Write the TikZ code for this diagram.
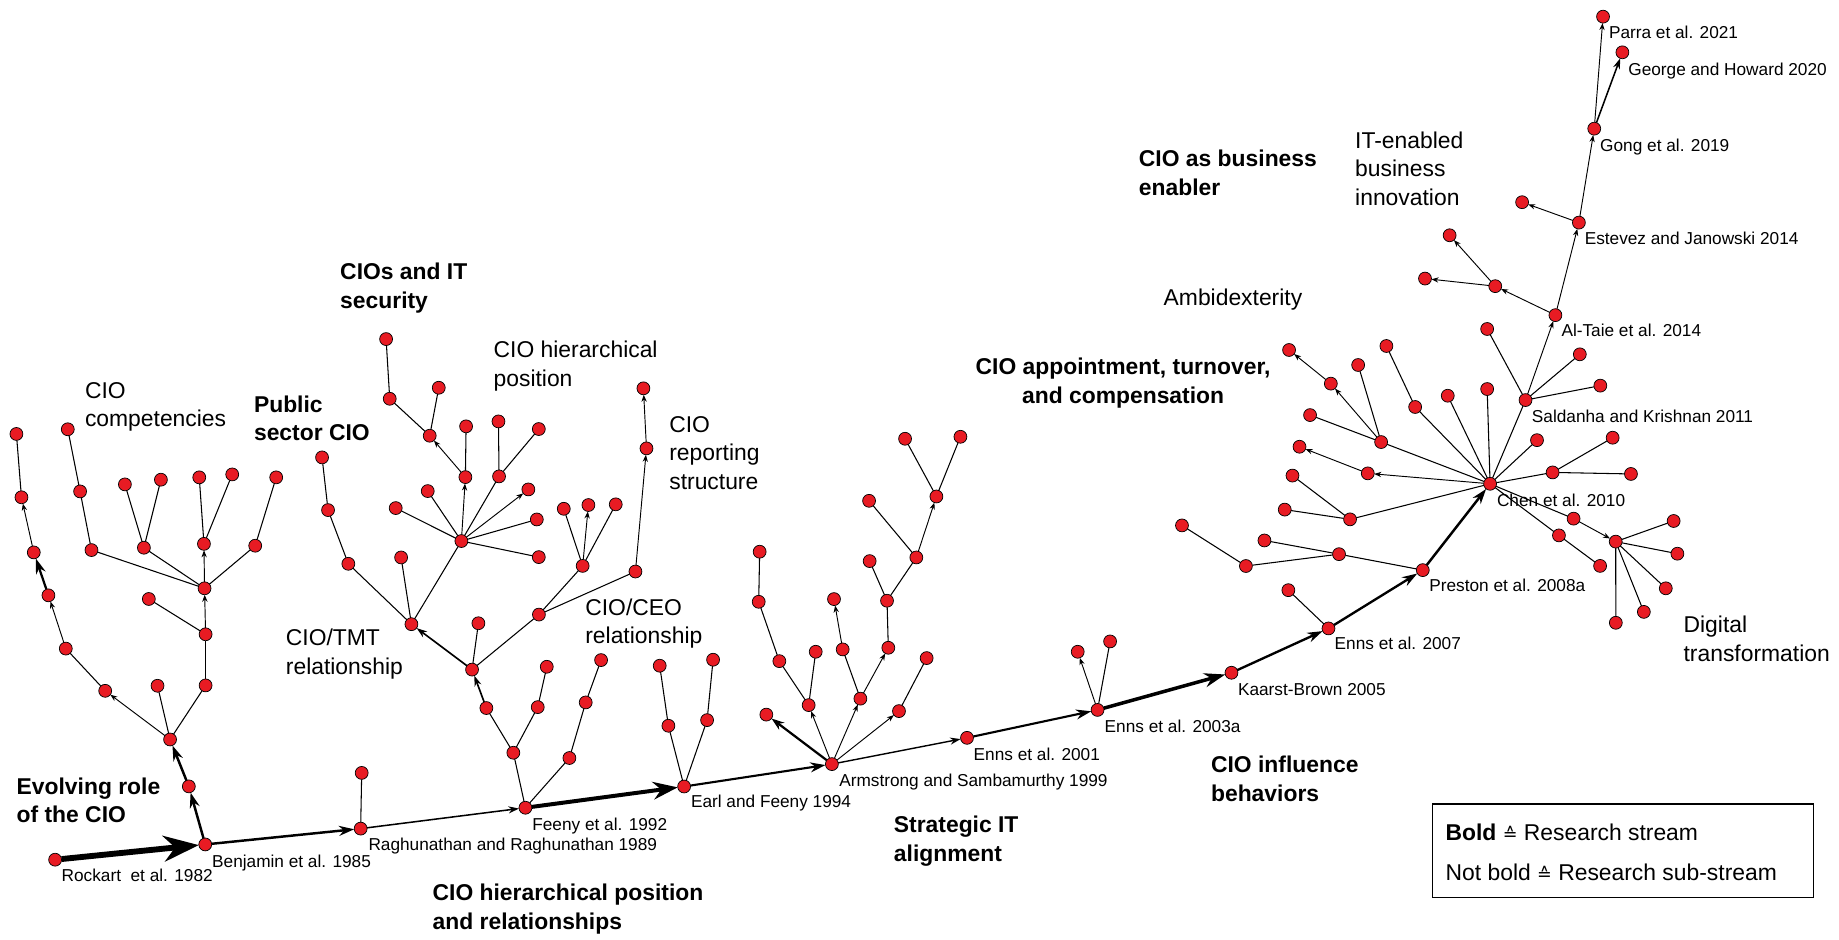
\documentclass[tikz,border=0pt]{standalone}
\usepackage{fontspec}
\setmainfont{Liberation Sans}
\newfontfamily\symfont{DejaVu Sans}
\usetikzlibrary{arrows.meta}
\definecolor{nodered}{RGB}{232,27,35}
\pgfdeclarelayer{bg}
\pgfsetlayers{bg,main}
\begin{document}
\begin{tikzpicture}[x=1pt,y=-1pt,
  dot/.style={circle,draw=black,line width=0.6pt,fill=nodered,minimum size=11pt,inner sep=0pt,outer sep=0pt},
  ln/.style={line width=0.9pt},
  sar/.style={line width=0.8pt,-{Stealth[length=6pt,width=4.5pt]}},
  medar/.style={line width=1.4pt,-{Stealth[length=9pt,width=6pt]}},
  boldar/.style={line width=2.1pt,-{Stealth[length=13pt,width=8.5pt]}},
  bigar/.style={line width=3.4pt,-{Stealth[length=21pt,width=15pt]}},
  hugear/.style={line width=5pt,-{Stealth[length=30pt,width=22pt]}},
  reflab/.style={anchor=base west,inner sep=0pt,font=\fontsize{14.7}{17}\selectfont},
  substrm/.style={anchor=base west,inner sep=0pt,align=left,font=\fontsize{19.5}{24.3}\selectfont},
  strm/.style={anchor=base west,inner sep=0pt,align=left,font=\fontsize{19.5}{24.3}\selectfont\bfseries},
]
\useasboundingbox (0,0) rectangle (1568,801);
% ---------- main line ----------
\node[dot] (r82) at (47,733) {};
\node[dot] (b85) at (175,720) {};
\node[dot] (r89) at (307.5,706.5) {};
\node[dot] (r89c) at (308.4,659) {};
\node[dot] (f92) at (448,688.7) {};
\node[dot] (e94) at (583.3,670.6) {};
\node[dot] (a99) at (709.3,651.5) {};
\node[dot] (e01) at (824.5,629.1) {};
\node[dot] (e03) at (935.8,605.3) {};
\node[dot] (kb05) at (1050,573.6) {};
\node[dot] (e07) at (1132.7,535.8) {};
\node[dot] (p08) at (1213.1,486.1) {};
\node[dot] (c10) at (1270.5,412.5) {};
\node[dot] (s11) at (1300.7,341.1) {};
\node[dot] (at14) at (1326.2,268.7) {};
\node[dot] (ej14) at (1346.2,189.8) {};
\node[dot] (g19) at (1359.3,109.7) {};
\node[dot] (p21) at (1366.8,14.2) {};
\node[dot] (gh20) at (1383.3,44.6) {};
% ---------- evolving role / competencies ----------
\node[dot] (ev1) at (161,670.5) {};
\node[dot] (evA) at (145,630.5) {};
\node[dot] (ev2) at (89.7,589) {};
\node[dot] (ev3) at (134.3,584.7) {};
\node[dot] (ev4) at (175.3,584.4) {};
\node[dot] (ev5) at (56.1,553) {};
\node[dot] (ev6) at (41.3,507.6) {};
\node[dot] (ev7) at (28.8,471) {};
\node[dot] (ev8) at (18.3,424) {};
\node[dot] (ev9) at (14,370) {};
\node[dot] (ev10) at (175.3,540.8) {};
\node[dot] (ev11) at (126.9,510.7) {};
\node[dot] (cmB) at (174.4,501.6) {};
\node[dot] (cm1) at (78,469) {};
\node[dot] (cm2) at (122.7,467) {};
\node[dot] (cm3) at (173.9,463.7) {};
\node[dot] (cm4) at (217.6,465.3) {};
\node[dot] (cm5) at (68.3,419) {};
\node[dot] (cm6) at (57.8,366) {};
\node[dot] (cm7) at (106.5,413) {};
\node[dot] (cm8) at (137.2,409) {};
\node[dot] (cm9) at (169.9,407) {};
\node[dot] (cm10) at (198,404.5) {};
\node[dot] (cm11) at (235.5,407) {};
% ---------- public sector / TMT / hierarchical / security ----------
\node[dot] (ps1) at (274.6,390) {};
\node[dot] (ps2) at (279.7,434.9) {};
\node[dot] (ps3) at (297,480.7) {};
\node[dot] (tmD) at (350.8,532.2) {};
\node[dot] (tm1) at (342,475.3) {};
\node[dot] (hC) at (393.4,461.3) {};
\node[dot] (hc1) at (337.4,433.2) {};
\node[dot] (hc2) at (364.7,418.7) {};
\node[dot] (hc3) at (396.8,406.8) {};
\node[dot] (hc4) at (425.5,406.2) {};
\node[dot] (hc5) at (450.5,417.3) {};
\node[dot] (hc6) at (457.7,442.9) {};
\node[dot] (hc7) at (459.4,475) {};
\node[dot] (sec1) at (366.4,371.5) {};
\node[dot] (hc8) at (397.4,363.5) {};
\node[dot] (sec2) at (332.3,340) {};
\node[dot] (sec3) at (329.2,289.1) {};
\node[dot] (sec4) at (374.1,330.6) {};
\node[dot] (hc9) at (425,359.3) {};
\node[dot] (hc10) at (459.4,365.8) {};
% ---------- CEO / reporting ----------
\node[dot] (ceE) at (402.5,570.9) {};
\node[dot] (ce1) at (407.9,531.4) {};
\node[dot] (ceF) at (459.5,524) {};
\node[dot] (ceG) at (496.8,482.5) {};
\node[dot] (rp1) at (541.8,487.3) {};
\node[dot] (rp2) at (551.2,382.3) {};
\node[dot] (rp3) at (548.6,331.1) {};
\node[dot] (ce2) at (480.7,433.8) {};
\node[dot] (ce3) at (501.7,430.6) {};
\node[dot] (ce4) at (525,430) {};
\node[dot] (fe1) at (437.7,641.8) {};
\node[dot] (fe2) at (485.5,646.3) {};
\node[dot] (fe3) at (414.7,603.7) {};
\node[dot] (fe4) at (458.5,602.9) {};
\node[dot] (fe5) at (466.2,568.5) {};
\node[dot] (fe6) at (499.4,598.9) {};
\node[dot] (fe7) at (512.5,562.8) {};
\node[dot] (ea1) at (569.9,618.8) {};
\node[dot] (ea2) at (562.5,567.6) {};
\node[dot] (ea3) at (602.9,614) {};
\node[dot] (ea4) at (608,562.5) {};
% ---------- strategic alignment ----------
\node[dot] (ar1) at (653.4,609.3) {};
\node[dot] (ar2) at (689.5,601.2) {};
\node[dot] (ar3) at (664.5,563.7) {};
\node[dot] (ar4) at (646.9,513.1) {};
\node[dot] (ar5) at (647.7,470.4) {};
\node[dot] (ar6) at (695.5,555.7) {};
\node[dot] (ar7) at (733.6,595.7) {};
\node[dot] (ar8) at (718.5,553.7) {};
\node[dot] (ar9) at (711.1,510.8) {};
\node[dot] (ar10) at (757.4,552.3) {};
\node[dot] (ar11) at (756.3,512.2) {};
\node[dot] (ar12) at (741.5,478.4) {};
\node[dot] (ar13) at (781.3,475.3) {};
\node[dot] (ar14) at (741,427) {};
\node[dot] (ar15) at (798.4,423.3) {};
\node[dot] (ar16) at (771.7,374.1) {};
\node[dot] (ar17) at (818.9,372.4) {};
\node[dot] (ar18) at (766.5,606.3) {};
\node[dot] (ar19) at (790.1,561.1) {};
% ---------- influence ----------
\node[dot] (en1) at (918.9,555.7) {};
\node[dot] (en2) at (946.5,546.9) {};
\node[dot] (en3) at (1098.5,503.2) {};
\node[dot] (pr1) at (1141.7,472.5) {};
\node[dot] (pr2) at (1078.1,460.8) {};
\node[dot] (pr3) at (1062.3,482.6) {};
\node[dot] (pr4) at (1007.8,448) {};
% ---------- appointment / enabler ----------
\node[dot] (ch1) at (1151.1,442.8) {};
\node[dot] (ch2) at (1102,405.5) {};
\node[dot] (ch3) at (1095.4,434.5) {};
\node[dot] (ch4) at (1166.2,403.6) {};
\node[dot] (ch5) at (1108,380.9) {};
\node[dot] (ch6) at (1177.6,376.9) {};
\node[dot] (ch7) at (1117,353.9) {};
\node[dot] (ch8) at (1134.7,327.1) {};
\node[dot] (ch9) at (1099.1,298.4) {};
\node[dot] (ch10) at (1158,311.2) {};
\node[dot] (ch11) at (1206.6,347) {};
\node[dot] (ch12) at (1182.1,295) {};
\node[dot] (ch13) at (1234.4,337.4) {};
\node[dot] (ch14) at (1268,331.7) {};
\node[dot] (sk1) at (1268,280.5) {};
\node[dot] (sk2) at (1347,302.1) {};
\node[dot] (sk3) at (1364.5,328.8) {};
\node[dot] (ch15) at (1310.5,375.3) {};
\node[dot] (ch16) at (1323.8,402.8) {};
\node[dot] (ch17) at (1375,373.2) {};
\node[dot] (ch18) at (1390.6,404.1) {};
\node[dot] (ch19) at (1341.7,442.2) {};
\node[dot] (dtH) at (1377.6,461.8) {};
\node[dot] (ch20) at (1329.2,456.5) {};
\node[dot] (ch21) at (1364.3,482.5) {};
\node[dot] (dt1) at (1427,444.2) {};
\node[dot] (dt2) at (1430.2,472.1) {};
\node[dot] (dt3) at (1420.3,501.6) {};
\node[dot] (dt4) at (1401.6,521.7) {};
\node[dot] (dt5) at (1377.7,531) {};
\node[dot] (bi1) at (1274.9,244) {};
\node[dot] (bi2) at (1236,200.6) {};
\node[dot] (bi3) at (1215,237.5) {};
\node[dot] (bi4) at (1297.8,172.4) {};
% ---------- connectors ----------
\begin{pgfonlayer}{bg}
\draw[hugear] (r82) -- (b85);
\draw[boldar] (b85) -- (r89);
\draw[boldar] (b85) -- (ev1);
\draw[boldar] (ev1) -- (evA);
\draw[boldar,line width=1.9pt] (ev6) -- (ev7);
\draw[medar,line width=1.3pt] (r89) -- (f92);
\draw[bigar] (f92) -- (e94);
\draw[boldar,line width=1.8pt] (e94) -- (a99);
\draw[medar,line width=1.2pt] (a99) -- (e01);
\draw[boldar,line width=1.8pt] (e01) -- (e03);
\draw[bigar,line width=3pt,-{Stealth[length=18pt,width=12pt]}] (e03) -- (kb05);
\draw[boldar,line width=2pt] (kb05) -- (e07);
\draw[boldar,line width=2pt] (e07) -- (p08);
\draw[boldar] (p08) -- (c10);
\draw[boldar,line width=1.9pt,-{Stealth[length=11pt,width=7.5pt]}] (a99) -- (ar1);
\draw[medar] (fe3) -- (ceE);
\draw[medar] (ceE) -- (tmD);
\draw[medar,line width=1.3pt] (g19) -- (gh20);
\foreach \a/\b in {evA/ev2, ev5/ev6, ev7/ev8, ev10/cmB, cmB/cm3, hC/hc3, hc3/sec1, hC/hc5,
  ceG/ce3, rp1/rp2, rp2/rp3, a99/ar2, a99/ar7, a99/ar18, ar8/ar9, ar7/ar10, ar13/ar15,
  e03/en1, c10/ch4, ch4/ch5, ch6/ch8, ch8/ch9, ch19/dtH, s11/at14, at14/ej14, ej14/g19,
  g19/p21, at14/bi1, bi1/bi2, bi1/bi3, ej14/bi4}
  \draw[sar] (\a) -- (\b);
\foreach \a/\b in {r89/r89c, ev2/ev5, ev8/ev9, evA/ev3, evA/ev4, ev4/ev10, ev10/ev11,
  cmB/cm1, cmB/cm2, cmB/cm4, cm1/cm5, cm5/cm6, cm2/cm7, cm2/cm8, cm3/cm9, cm3/cm10, cm4/cm11,
  ps1/ps2, ps2/ps3, ps3/tmD, tmD/tm1, tmD/hC, hC/hc1, hC/hc2, hC/hc4, hC/hc6, hC/hc7,
  hc3/hc8, sec1/sec2, sec2/sec3, sec1/sec4, hc4/hc9, hc4/hc10,
  ceE/ce1, ceE/ceF, ceF/ceG, ceF/rp1, ceG/ce2, ceG/ce4,
  f92/fe1, f92/fe2, fe1/fe3, fe1/fe4, fe4/fe5, fe2/fe6, fe6/fe7,
  e94/ea1, ea1/ea2, e94/ea3, ea3/ea4,
  ar2/ar3, ar3/ar4, ar4/ar5, ar2/ar6, ar7/ar8, ar10/ar11, ar11/ar12, ar11/ar13,
  ar13/ar14, ar15/ar16, ar15/ar17, ar18/ar19,
  e03/en2, e07/en3, p08/pr1, pr1/pr2, pr1/pr3, pr3/pr4,
  c10/ch1, ch1/ch2, ch1/ch3, c10/ch6, ch6/ch7, ch6/ch10, c10/ch11, ch11/ch12,
  c10/ch13, c10/ch14, c10/s11, s11/sk1, s11/sk2, s11/sk3, c10/ch15, c10/ch16,
  ch16/ch17, ch16/ch18, c10/ch19, c10/ch20, ch20/ch21,
  dtH/dt1, dtH/dt2, dtH/dt3, dtH/dt4, dtH/dt5}
  \draw[ln] (\a) -- (\b);
\end{pgfonlayer}
% ---------- reference labels ----------
\node[reflab] (lr82) at (52.4,751.2) {Rockart\ \ et al. 1982};
\node[reflab] (lb85) at (180.7,739.3) {Benjamin et al. 1985};
\node[reflab] (lr89) at (314,725.5) {Raghunathan and Raghunathan 1989};
\node[reflab] (lf92) at (453.7,708.2) {Feeny et al. 1992};
\node[reflab] (le94) at (589,688.6) {Earl and Feeny 1994};
\node[reflab] (la99) at (715.4,670.4) {Armstrong and Sambamurthy 1999};
\node[reflab] (le01) at (830,648.3) {Enns et al. 2001};
\node[reflab] (le03) at (941.7,624.4) {Enns et al. 2003a};
\node[reflab] (lkb05) at (1055.4,592.8) {Kaarst-Brown 2005};
\node[reflab] (le07) at (1137.8,553.9) {Enns et al. 2007};
\node[reflab] (lp08) at (1218.5,504.7) {Preston et al. 2008a};
\node[reflab] (lc10) at (1276.2,431.6) {Chen et al. 2010};
\node[reflab] (ls11) at (1306,360.6) {Saldanha and Krishnan 2011};
\node[reflab] (lat14) at (1331.2,287.3) {Al-Taie et al. 2014};
\node[reflab] (lej14) at (1351,208.7) {Estevez and Janowski 2014};
\node[reflab] (lg19) at (1364.2,128.9) {Gong et al. 2019};
\node[reflab] (lgh20) at (1388.2,64.1) {George and Howard 2020};
\node[reflab] (lp21) at (1371.7,33.1) {Parra et al. 2021};
% ---------- stream labels (anchor = baseline of last line) ----------
\node[strm] (tEvo) at (14,701.6) {Evolving role\\of the CIO};
\node[substrm] (tComp) at (72.3,364) {CIO\\competencies};
\node[strm] (tPub) at (216.4,375.8) {Public\\sector CIO};
\node[strm] (tSec) at (289.9,263) {CIOs and IT\\security};
\node[substrm] (tHier) at (420.7,329.2) {CIO hierarchical\\position};
\node[substrm] (tRep) at (570.5,417.2) {CIO\\reporting\\structure};
\node[substrm] (tTMT) at (243.6,574.8) {CIO/TMT\\relationship};
\node[substrm] (tCEO) at (498.9,548.9) {CIO/CEO\\relationship};
\node[strm] (tHP) at (368.7,792.2) {CIO hierarchical position\\and relationships};
\node[strm] (tAlign) at (762,734.3) {Strategic IT\\alignment};
\node[strm] (tInfl) at (1032.4,683.2) {CIO influence\\behaviors};
\node[strm,anchor=base,align=center] (tApp) at (957.6,344) {CIO appointment, turnover,\\and compensation};
\node[substrm] (tAmb) at (992,260.5) {Ambidexterity};
\node[strm] (tEnab) at (970.9,166.3) {CIO as business\\enabler};
\node[substrm] (tInno) at (1155.3,174.9) {IT-enabled\\business\\innovation};
\node[substrm] (tDig) at (1435.3,563.7) {Digital\\transformation};
% ---------- legend ----------
\draw[line width=1pt] (1221.7,685.5) rectangle (1546.3,765.5);
\node[substrm] (lg1) at (1232.4,717) {\textbf{Bold} {\symfont\fontsize{15}{15}\selectfont ≙} Research stream};
\node[substrm] (lg2) at (1232.4,751.1) {Not bold {\symfont\fontsize{15}{15}\selectfont ≙} Research sub-stream};
\end{tikzpicture}
\end{document}
